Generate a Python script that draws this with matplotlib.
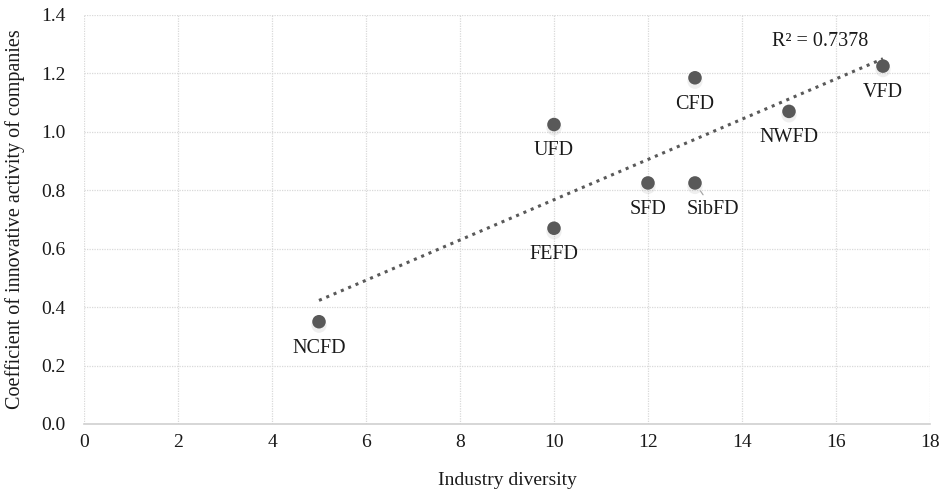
import matplotlib
matplotlib.use('Agg')
import matplotlib.pyplot as plt
import numpy as np

plt.rcParams['font.family'] = ['Liberation Serif', 'DejaVu Serif']

# 数据
regions = ['NCFD', 'UFD', 'FEFD', 'SFD', 'SibFD', 'CFD', 'NWFD', 'VFD']
diversity = [5, 10, 10, 12, 13, 13, 15, 17]
activity = [0.35, 1.025, 0.67, 0.825, 0.825, 1.185, 1.07, 1.225]
r2_text = 'R² = 0.7378'

fig = plt.figure(figsize=(9.45, 4.91), dpi=100)
ax = fig.add_axes([0.0889, 0.1365, 0.8952, 0.833])

x = np.array(diversity, dtype=float)
y = np.array(activity, dtype=float)

# 趋势线
k, b = np.polyfit(x, y, 1)
xs = np.array([x.min(), x.max()])
ax.plot(xs, k * xs + b, color='#595959', linestyle=(0, (1, 1.6)), linewidth=2.2,
        zorder=2)

# 点（带阴影）
ax.scatter(x, y - 0.012, s=120, color='#808080', alpha=0.12,
           edgecolors='none', zorder=2)
ax.scatter(x, y, s=95, color='#595959', edgecolors='none', zorder=3)

lab_fs = 14.5
for name, xi, yi in zip(regions, diversity, activity):
    if name == 'SibFD':
        ax.annotate(name, (xi, yi), xytext=(13, -19), textcoords='offset points',
                    ha='center', va='center', fontsize=lab_fs, color='#1a1a1a',
                    arrowprops=dict(arrowstyle='-', color='#a6a6a6', lw=0.9,
                                    shrinkA=2, shrinkB=7))
    else:
        ax.annotate(name, (xi, yi), xytext=(0, -19), textcoords='offset points',
                    ha='center', va='center', fontsize=lab_fs, color='#1a1a1a')

ax.text(15.66, 1.308, r2_text, ha='center', va='center', fontsize=lab_fs,
        color='#1a1a1a')

ax.set_xlim(0, 18)
ax.set_ylim(0, 1.4)
ax.set_xticks(np.arange(0, 19, 2))
ax.set_yticks(np.arange(0, 1.41, 0.2))
ax.set_yticklabels([f'{v:.1f}' for v in np.arange(0, 1.41, 0.2)])
ax.grid(True, color='#d9d9d9', linestyle=(0, (1, 1)), linewidth=0.9)
ax.set_axisbelow(True)
for s in ['left', 'top', 'right']:
    ax.spines[s].set_visible(False)
ax.spines['bottom'].set_color('#d0d0d0')
ax.spines['bottom'].set_linewidth(1.2)
ax.tick_params(axis='y', length=0, labelsize=14, colors='#1a1a1a', pad=13)
ax.tick_params(axis='x', length=0, labelsize=14, colors='#1a1a1a', pad=7)

ax.set_xlabel('Industry diversity', fontsize=14, color='#1a1a1a', labelpad=15)
ax.set_ylabel('Coefficient of innovative activity of companies', fontsize=14.5,
              color='#1a1a1a', labelpad=12)

fig.savefig('out.png', dpi=100)
